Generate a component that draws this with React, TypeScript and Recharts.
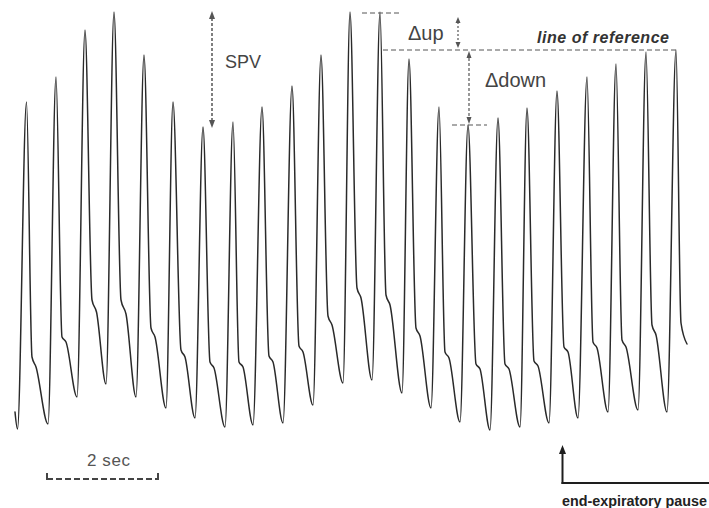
import React from 'react';
import { LineChart, Line, XAxis, YAxis } from 'recharts';

// Arterial pressure trace: time in seconds, pressure in mmHg
const startTime = 0.27;
const startPressure = 47.6;

const troughTime = [0.315, 0.864, 1.386, 1.908, 2.448, 2.988, 3.51, 4.05, 4.554, 5.094, 5.634, 6.174, 6.696, 7.236, 7.758, 8.28, 8.82, 9.36, 9.882, 10.404, 10.944, 11.484, 12.006];
const troughPressure = [44.2, 45.2, 50.6, 53.2, 50.6, 48.4, 46.4, 44.6, 45.0, 45.4, 49.0, 53.4, 54.0, 51.4, 48.4, 45.6, 44.0, 44.6, 45.4, 46.4, 47.6, 48.0, 47.6];

const peakTime = [0.477, 1.008, 1.53, 2.052, 2.592, 3.114, 3.654, 4.194, 4.716, 5.256, 5.778, 6.3, 6.84, 7.362, 7.902, 8.424, 8.964, 9.486, 10.026, 10.566, 11.088, 11.628, 12.168];
const peakPressure = [109.6, 114.6, 124.0, 127.6, 119.0, 109.6, 104.6, 105.6, 108.6, 112.8, 119.0, 127.6, 127.6, 118.2, 108.6, 105.0, 106.4, 108.4, 111.8, 114.6, 117.2, 119.6, 120.0];

const notchTime = [0.576, 1.116, 1.656, 2.178, 2.718, 3.258, 3.78, 4.302, 4.842, 5.382, 5.904, 6.426, 6.948, 7.488, 8.01, 8.568, 9.09, 9.612, 10.152, 10.674, 11.196, 11.736, 12.258];
const notchPressure = [58.6, 62.6, 70.0, 70.0, 64.4, 60.0, 57.6, 57.6, 58.8, 60.8, 66.8, 72.4, 71.0, 64.4, 59.6, 57.2, 57.2, 57.8, 60.6, 61.6, 62.0, 65.0, 65.4];

const shoulderTime = [0.648, 1.188, 1.737, 2.268, 2.79, 3.33, 3.852, 4.374, 4.914, 5.454, 5.976, 6.498, 7.02, 7.56, 8.082, 8.64, 9.162, 9.684, 10.224, 10.746, 11.268, 11.808, 12.366];
const shoulderPressure = [56.6, 61.6, 67.6, 67.2, 62.6, 58.6, 56.4, 56.6, 57.6, 59.6, 65.0, 70.4, 69.0, 62.8, 58.4, 56.2, 56.2, 56.8, 59.6, 60.4, 60.6, 63.0, 61.2];

// indices of beats used by annotations
const deltaUpBeat = 12;
const deltaDownBeat = 15;
const referenceBeat = 22;

const W = 709;
const H = 508;
const X_DOMAIN: [number, number] = [0, 12.762];
const Y_DOMAIN: [number, number] = [28.4, 130];

const waveform: { t: number; p: number }[] = [{ t: startTime, p: startPressure }];
for (let i = 0; i < peakTime.length; i++) {
  waveform.push({ t: troughTime[i], p: troughPressure[i] });
  waveform.push({ t: peakTime[i], p: peakPressure[i] });
  waveform.push({ t: notchTime[i], p: notchPressure[i] });
  waveform.push({ t: shoulderTime[i], p: shoulderPressure[i] });
}

const sy = (p: number) => ((Y_DOMAIN[1] - p) / (Y_DOMAIN[1] - Y_DOMAIN[0])) * H;

const Head = ({ x, y, dir, w = 3, l = 8, fill = '#555' }: { x: number; y: number; dir: 'up' | 'down'; w?: number; l?: number; fill?: string }) => {
  const d = dir === 'up'
    ? `M${x} ${y} L${x - w} ${y + l} L${x + w} ${y + l} Z`
    : `M${x} ${y} L${x - w} ${y - l} L${x + w} ${y - l} Z`;
  return <path d={d} fill={fill} stroke="none" />;
};

const Annotations = () => {
  const spvTop = sy(Math.max(...peakPressure));
  const spvBot = sy(Math.min(...peakPressure));
  const upY = sy(peakPressure[deltaUpBeat]);
  const refY = sy(peakPressure[referenceBeat]);
  const downY = sy(peakPressure[deltaDownBeat]);
  const dash = '3 2';
  const c = '#555';
  return (
    <svg width={W} height={H} style={{ position: 'absolute', left: 0, top: 0, pointerEvents: 'none' }}>
      {/* SPV */}
      <line x1={212} x2={212} y1={spvTop + 6} y2={spvBot - 6} stroke={c} strokeWidth={1.5} strokeDasharray={dash} />
      <Head x={212} y={spvTop - 1} dir="up" w={3} l={8} />
      <Head x={212} y={spvBot + 1} dir="down" w={3} l={8} />
      <text x={225} y={68} fontFamily="Liberation Sans, Arial, sans-serif" fontSize={18} fill="#444">SPV</text>

      {/* Delta up */}
      <line x1={362} x2={400} y1={upY + 1} y2={upY + 1} stroke={c} strokeWidth={1} strokeDasharray="5 3" />
      <line x1={458} x2={458} y1={upY + 10} y2={refY - 6} stroke={c} strokeWidth={1.2} strokeDasharray="2 2" />
      <Head x={458} y={upY + 5} dir="up" w={2.5} l={6} />
      <Head x={458} y={refY - 2} dir="down" w={2.5} l={6} />
      <text x={408} y={40} fontFamily="Liberation Sans, Arial, sans-serif" fontSize={20} fill="#444">Δup</text>

      {/* line of reference */}
      <line x1={383} x2={677} y1={refY} y2={refY} stroke={c} strokeWidth={1} strokeDasharray="5 3" />
      <text x={537} y={43} fontFamily="Liberation Sans, Arial, sans-serif" fontSize={16} fontWeight="bold" fontStyle="italic" fill="#333" textLength={132} lengthAdjust="spacing">line of reference</text>

      {/* Delta down */}
      <line x1={469} x2={469} y1={refY + 8} y2={downY - 8} stroke={c} strokeWidth={1.2} strokeDasharray="3 2" />
      <Head x={469} y={refY + 1} dir="up" w={2.5} l={7} />
      <Head x={469} y={downY - 1} dir="down" w={2.5} l={7} />
      <line x1={452} x2={487} y1={downY} y2={downY} stroke={c} strokeWidth={1.2} strokeDasharray="5 3" />
      <text x={485} y={87} fontFamily="Liberation Sans, Arial, sans-serif" fontSize={20} fill="#444">Δdown</text>

      {/* 2 sec scale bar */}
      <text x={87} y={466} fontFamily="Liberation Sans Narrow, Liberation Sans, Arial, sans-serif" fontSize={17} fill="#555" textLength={43} lengthAdjust="spacing">2 sec</text>
      <line x1={47} x2={158} y1={479} y2={479} stroke="#444" strokeWidth={2} strokeDasharray="6 3" />
      <line x1={47} x2={47} y1={473} y2={480} stroke="#444" strokeWidth={2} />
      <line x1={158} x2={158} y1={473} y2={480} stroke="#444" strokeWidth={2} />

      {/* end-expiratory pause */}
      <line x1={562.5} x2={562.5} y1={484} y2={452} stroke="#1e1e1e" strokeWidth={2} />
      <Head x={562.5} y={445} dir="up" w={3.5} l={9} fill="#1e1e1e" />
      <line x1={561.5} x2={709} y1={483} y2={483} stroke="#1e1e1e" strokeWidth={2.2} />
      <text x={562} y={506} fontFamily="Liberation Sans, Arial, sans-serif" fontSize={14.5} fontWeight="bold" fill="#222" textLength={145} lengthAdjust="spacingAndGlyphs">end-expiratory pause</text>
    </svg>
  );
};

export default function App() {
  return (
    <div style={{ position: 'absolute', left: 0, top: 0, width: W, height: H, background: '#fff' }}>
      <LineChart width={W} height={H} data={waveform} margin={{ top: 0, right: 0, bottom: 0, left: 0 }}>
        <XAxis dataKey="t" type="number" domain={X_DOMAIN} hide allowDataOverflow />
        <YAxis type="number" domain={Y_DOMAIN} hide allowDataOverflow />
        <Line
          dataKey="p"
          type="monotone"
          stroke="#2a2a2a"
          strokeWidth={1.5}
          dot={false}
          activeDot={false}
          isAnimationActive={false}
          strokeLinejoin="round"
          strokeLinecap="round"
        />
      </LineChart>
      <Annotations />
    </div>
  );
}
